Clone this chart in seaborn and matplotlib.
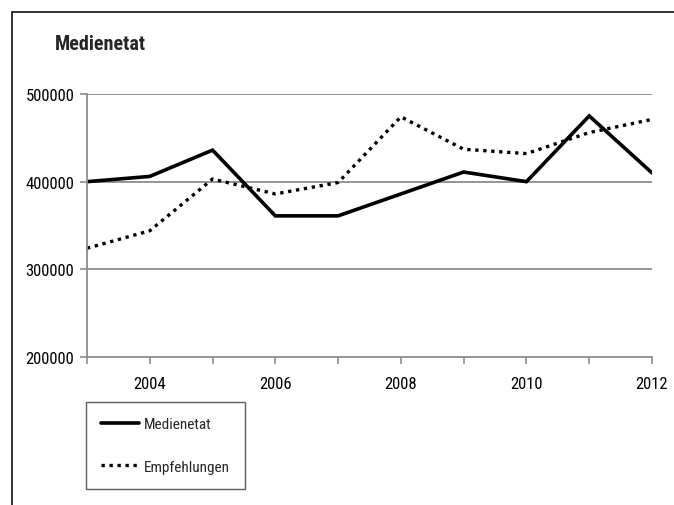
import matplotlib
matplotlib.use("Agg")
import matplotlib.pyplot as plt
from matplotlib.lines import Line2D
from matplotlib.ticker import MultipleLocator, FuncFormatter
import seaborn as sns
import pandas as pd

# Budget and recommendation figures per year
years = [2003, 2004, 2005, 2006, 2007, 2008, 2009, 2010, 2011, 2012]
medienetat = [400000, 406000, 436000, 361000, 361000, 386000, 411000, 400000, 475000, 410000]
empfehlungen = [324000, 344000, 403000, 386000, 399000, 474000, 437000, 432000, 456000, 471000]
y_ticks = [200000, 300000, 400000, 500000]
x_labels = [2004, 2006, 2008, 2010, 2012]

sns.set_theme(style="white")
plt.rcParams["font.family"] = ["Roboto Condensed", "DejaVu Sans"]

df = pd.DataFrame({"Jahr": years, "Medienetat": medienetat, "Empfehlungen": empfehlungen})

fig = plt.figure(figsize=(6.74, 5.06), dpi=100)
ax = fig.add_axes([87 / 674, 1 - 358 / 506, (652 - 87) / 674, (358 - 95) / 506])

sns.lineplot(data=df, x="Jahr", y="Medienetat", ax=ax, color="black",
             linewidth=2.6, label="Medienetat", solid_joinstyle="miter")
sns.lineplot(data=df, x="Jahr", y="Empfehlungen", ax=ax, color="black",
             linewidth=2.4, linestyle=(0, (1.0, 1.4)), label="Empfehlungen")

ax.set_xlim(years[0], years[-1])
ax.set_ylim(y_ticks[0], y_ticks[-1])
ax.set_yticks(y_ticks)
ax.yaxis.set_major_formatter(FuncFormatter(lambda v, p: f"{int(v)}"))
ax.xaxis.set_major_locator(MultipleLocator(1))
ax.xaxis.set_major_formatter(FuncFormatter(lambda v, p: f"{int(round(v))}" if int(round(v)) in x_labels else ""))
ax.set_xlabel("")
ax.set_ylabel("")

grid_color = "#8c8c8c"
for v in y_ticks[1:]:
    ax.axhline(v, color=grid_color, linewidth=1.3, zorder=0)
for side in ["top", "right"]:
    ax.spines[side].set_visible(False)
for side in ["left", "bottom"]:
    ax.spines[side].set_color(grid_color)
    ax.spines[side].set_linewidth(1.3)

ax.tick_params(axis="both", which="major", direction="out", length=5, width=1.2,
               color=grid_color, labelsize=12, labelcolor="black")
ax.tick_params(axis="x", pad=9, bottom=True)
ax.tick_params(axis="y", pad=4, left=True)

ax.legend_.remove()
handles, labels = ax.get_legend_handles_labels()
leg = fig.legend(handles, labels, loc="upper left",
                 bbox_to_anchor=(86 / 674, 1 - 403 / 506),
                 frameon=True, fancybox=False, fontsize=11,
                 handlelength=2.5, handletextpad=0.3, labelspacing=1.85,
                 borderpad=1.0, borderaxespad=0)
leg.get_frame().set_edgecolor("#333333")
leg.get_frame().set_linewidth(1.0)

fig.text(55 / 674, 1 - 50 / 506, "Medienetat", fontsize=14.5, fontweight="bold",
         ha="left", va="baseline")

# Outer frame: top and left edges
fig.add_artist(Line2D([12.5 / 674, 1], [1 - 13 / 506, 1 - 13 / 506],
                      transform=fig.transFigure, color="#222222", linewidth=1.3))
fig.add_artist(Line2D([12.5 / 674, 12.5 / 674], [1 - 13 / 506, 0],
                      transform=fig.transFigure, color="#222222", linewidth=1.3))

fig.savefig("out.png", dpi=100, facecolor="white")
